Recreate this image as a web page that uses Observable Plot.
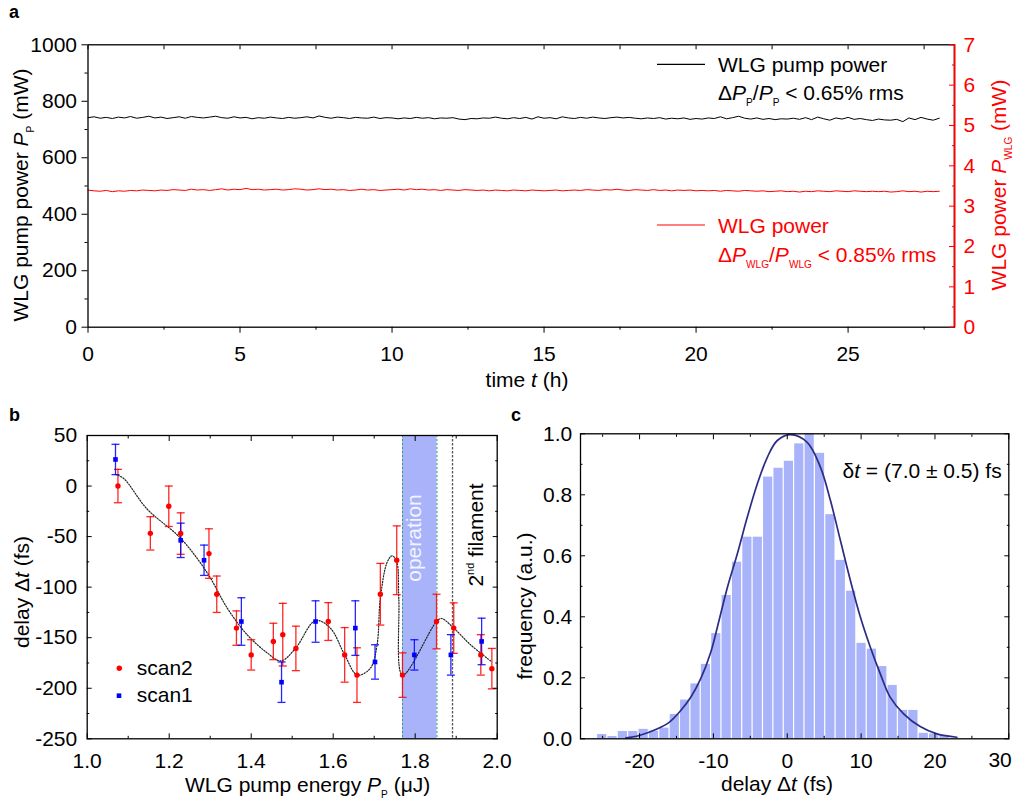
<!DOCTYPE html>
<html><head><meta charset="utf-8">
<script src="https://cdn.jsdelivr.net/npm/d3@7"></script>
<script src="https://cdn.jsdelivr.net/npm/@observablehq/plot@0.6"></script>
<style>
body{margin:0;background:#fff;}
#root{position:relative;width:1016px;height:802px;overflow:hidden;}
#root svg{position:absolute;overflow:visible;}
</style></head><body><div id="root"></div>
<script>
// ---------- Panel a data (time step 0.2 h) ----------
const tStep = 0.2;
const tMax = 28.5;
const pumpPower = [742,745,740,743,739,744,741,746,740,743,747,
741,744,739,742,745,740,746,743,741,744,
747,742,740,745,741,743,738,742,740,744,
741,739,743,740,742,745,741,748,743,740,
744,742,739,743,741,740,744,739,742,741,
738,741,739,743,740,742,738,741,740,742,
737,735,739,738,741,740,744,740,738,742,
739,743,737,745,740,742,738,745,741,739,
743,740,744,741,739,742,744,741,743,740,
738,741,739,742,737,740,738,741,736,739,
737,741,739,745,738,742,747,740,737,741,
736,739,735,738,737,740,736,742,735,744,
738,733,741,737,743,736,739,735,732,737,
734,733,736,728,741,735,743,737,733,740];
const wlgPower = [3.40,3.38,3.37,3.39,3.36,3.38,3.37,3.39,3.38,3.40,3.39,
3.38,3.40,3.39,3.41,3.40,3.39,3.42,3.40,3.41,3.39,
3.41,3.43,3.40,3.42,3.41,3.44,3.41,3.42,3.40,3.41,
3.42,3.40,3.41,3.43,3.42,3.40,3.41,3.43,3.41,3.42,
3.40,3.41,3.39,3.40,3.42,3.40,3.41,3.39,3.40,3.41,
3.42,3.40,3.43,3.41,3.42,3.40,3.41,3.39,3.41,3.40,
3.39,3.41,3.40,3.39,3.40,3.38,3.40,3.39,3.38,3.40,
3.39,3.38,3.40,3.39,3.38,3.39,3.40,3.38,3.39,3.40,
3.39,3.41,3.40,3.39,3.41,3.40,3.42,3.40,3.39,3.41,
3.40,3.39,3.41,3.39,3.40,3.38,3.40,3.39,3.40,3.38,
3.39,3.38,3.39,3.37,3.39,3.38,3.37,3.39,3.38,3.37,
3.38,3.36,3.37,3.38,3.36,3.37,3.35,3.37,3.36,3.38,
3.37,3.36,3.38,3.37,3.36,3.38,3.37,3.36,3.37,3.36,
3.37,3.35,3.36,3.38,3.36,3.37,3.35,3.37,3.36,3.37];
const tMajorA = [0,5,10,15,20,25];
const tMinorA = [2.5,7.5,12.5,17.5,22.5,27.5];
const pMajor = [0,200,400,600,800,1000];
const pMinor = [100,300,500,700,900];
const wMajor = [0,1,2,3,4,5,6,7];
const wMinor = [0.5,1.5,2.5,3.5,4.5,5.5,6.5];

// ---------- Panel b data ----------
const scan2X = [1.075,1.154,1.199,1.228,1.297,1.316,1.364,1.400,1.454,1.477,1.509,1.588,1.628,1.658,1.715,1.755,1.769,1.852,1.894,1.960,1.987];
const scan2Y = [0,-46.8,-20,-47,-66.8,-107,-140.5,-167,-153.7,-147,-160.6,-134,-167,-187,-107,-73.4,-187,-134,-140.5,-167,-180.6];
const scan2E = [16.5,16.5,20,20.5,24.5,18,17,15,18,31,22,18.7,27,27,30.5,34,22,27,25,20,20];
const scan1X = [1.069,1.228,1.285,1.376,1.474,1.557,1.654,1.702,1.798,1.887,1.962];
const scan1Y = [26.3,-53.7,-73.4,-134,-194,-134,-140.5,-174,-167,-167,-153.7];
const scan1E = [15,17,15,23.5,20,20.5,27,17,15,20,23];
const fitX = [1.069,1.089,1.146,1.228,1.293,1.342,1.390,1.439,1.472,1.508,1.557,1.593,1.628,1.659,1.691,1.707,1.715,1.732,1.744,1.755,1.760,1.769,1.852,1.864,1.894,1.935,1.984];
const fitY = [11.5,7.5,-22.7,-51.7,-86,-121,-147,-165,-173,-160.6,-133,-140.5,-167,-187,-180,-157,-111,-75,-69,-75,-111,-187,-134,-131,-140.5,-157,-173];
const operationBand = [1.769, 1.853];
const filamentE = 1.891;
const eMajor = [1.0,1.2,1.4,1.6,1.8,2.0];
const eMinor = [1.1,1.3,1.5,1.7,1.9];
const dMajor = [50,0,-50,-100,-150,-200,-250];
const dMinor = [25,-25,-75,-125,-175,-225];

// ---------- Panel c data ----------
const binStart = -25.77;
const binWidth = 1.405;
const freq = [0.014,0.0075,0.024,0.024,0.031,0.025,0.035,0.080,0.127,0.18,0.244,0.345,0.47,0.579,0.661,0.661,0.858,0.887,0.910,0.967,1.0,0.936,0.735,0.585,0.484,0.313,0.294,0.237,0.175,0.093,0.093,0.018,0.016,0.011];
const gaussX = [-21.85,-20.05,-17.57,-16.0,-14.42,-13.07,-11.72,-10.36,-9.24,-8.1,-6.76,-5.41,-4.05,-2.70,-1.35,0.45,2.70,4.5,5.85,7.2,8.55,9.9,11.25,12.6,13.95,15.76,18.0,20.27,22.97];
const gaussY = [0.003,0.011,0.033,0.054,0.093,0.136,0.197,0.284,0.388,0.497,0.607,0.727,0.836,0.923,0.978,0.997,0.972,0.89,0.781,0.65,0.519,0.399,0.30,0.213,0.136,0.082,0.040,0.016,0.005];
const cMajor = [-20,-10,0,10,20,30];
const cMinor = [-25,-15,-5,5,15,25];
const fMajor = [0,0.2,0.4,0.6,0.8,1.0];
const fMinor = [0.1,0.3,0.5,0.7,0.9];

// ---------- build ----------
const FONT = "'Liberation Sans', Arial, Helvetica, sans-serif";
const blank = () => "";
const root = document.getElementById("root");
const baseStyle = {fontFamily: FONT, fontSize: "21px", background: "transparent", overflow: "visible", color: "black"};

const pumpRows = pumpPower.map((p, i) => ({t: i * tStep, p}));
const wlgRows = wlgPower.map((p, i) => ({t: i * tStep, p}));
const toLeft = v => v * 1000 / 7;

const svgA = Plot.plot({
  width: 1016, height: 400,
  marginLeft: 87.5, marginRight: 62, marginTop: 44.3, marginBottom: 73.3,
  x: {domain: [0, tMax]}, y: {domain: [0, 1000]},
  style: baseStyle,
  marks: [
    Plot.line(pumpRows, {x: "t", y: "p", stroke: "black", strokeWidth: 1}),
    Plot.line(wlgRows, {x: "t", y: d => toLeft(d.p), stroke: "red", strokeWidth: 1}),
    Plot.frame({stroke: "black", strokeWidth: 1.3}),
    Plot.ruleX([tMax], {stroke: "red", strokeWidth: 1.8}),
    Plot.axisX(tMajorA, {anchor: "bottom", tickSize: 6, tickPadding: 13, tickFormat: d => String(d), label: null}),
    Plot.axisX(tMinorA, {anchor: "bottom", tickSize: 3, tickFormat: blank, label: null}),
    Plot.axisX(tMajorA.concat(tMinorA), {anchor: "top", tickSize: -4, tickFormat: blank, label: null}),
    Plot.axisY(pMajor, {anchor: "left", tickSize: 6, tickPadding: 5, tickFormat: d => String(d), label: null}),
    Plot.axisY(pMinor, {anchor: "left", tickSize: 3, tickFormat: blank, label: null}),
    Plot.axisY(wMajor.map(toLeft), {anchor: "right", tickSize: -6, tickPadding: 15, tickFormat: d => String(Math.round(d * 7 / 1000)), color: "red", label: null}),
    Plot.axisY(wMinor.map(toLeft), {anchor: "right", tickSize: -3, tickFormat: blank, color: "red", label: null})
  ]
});
svgA.style.left = "0px"; svgA.style.top = "0px";
root.appendChild(svgA);

// Panel b
const scan2 = scan2X.map((x, i) => ({x, y: scan2Y[i], e: scan2E[i]}));
const scan1 = scan1X.map((x, i) => ({x, y: scan1Y[i], e: scan1E[i]}));
const fit = fitX.map((x, i) => ({x, y: fitY[i]}));
const capSymbol = {draw(ctx, size) { const w = Math.sqrt(size / Math.PI); ctx.moveTo(-w, 0); ctx.lineTo(w, 0); }};
const yDomB = [-250, 50];
function errMarks(data, color) {
  return [
    Plot.ruleX(data, {x: "x", y1: d => d.y - d.e, y2: d => d.y + d.e, stroke: color, strokeWidth: 1.3, strokeOpacity: 0.85}),
    Plot.dot(data, {x: "x", y: d => d.y + d.e, symbol: capSymbol, r: 4, stroke: color, strokeWidth: 1.3, strokeOpacity: 0.85}),
    Plot.dot(data, {x: "x", y: d => d.y - d.e, symbol: capSymbol, r: 4, stroke: color, strokeWidth: 1.3, strokeOpacity: 0.85})
  ];
}
const svgB = Plot.plot({
  width: 508, height: 402,
  marginLeft: 86.7, marginRight: 11.3, marginTop: 35, marginBottom: 63.7,
  x: {domain: [1.0, 2.0]}, y: {domain: yDomB},
  style: baseStyle,
  marks: [
    Plot.rect([operationBand], {x1: d => d[0], x2: d => d[1], y1: yDomB[0], y2: yDomB[1], fill: "#a8b3fa"}),
    Plot.ruleX(operationBand, {stroke: "#2f9e6e", strokeWidth: 1, strokeDasharray: "2,2"}),
    Plot.ruleX([filamentE], {stroke: "#555", strokeWidth: 1.3, strokeDasharray: "2.5,1.5"}),
    Plot.line(fit, {x: "x", y: "y", curve: "catmull-rom", stroke: "#222", strokeWidth: 1.2, strokeDasharray: "1.2,1.6"}),
    ...errMarks(scan2, "#ff0000"),
    ...errMarks(scan1, "#0000ff"),
    Plot.dot(scan2, {x: "x", y: "y", r: 2.7, fill: "#ff0000"}),
    Plot.dot(scan1, {x: "x", y: "y", r: 2.6, symbol: "square", fill: "#0000ff"}),
    Plot.frame({stroke: "black", strokeWidth: 1.3}),
    Plot.axisX(eMajor, {anchor: "bottom", tickSize: -5, tickPadding: 19.3, tickFormat: d => d.toFixed(1), label: null}),
    Plot.axisX(eMinor, {anchor: "bottom", tickSize: -2.5, tickFormat: blank, label: null}),
    Plot.axisX(eMajor, {anchor: "top", tickSize: -5, tickFormat: blank, label: null}),
    Plot.axisX(eMinor, {anchor: "top", tickSize: -2.5, tickFormat: blank, label: null}),
    Plot.axisY(dMajor, {anchor: "left", tickSize: -5, tickPadding: 15, tickFormat: d => String(d), label: null}),
    Plot.axisY(dMinor, {anchor: "left", tickSize: -2.5, tickFormat: blank, label: null}),
    Plot.axisY(dMajor, {anchor: "right", tickSize: -5, tickFormat: blank, label: null}),
    Plot.axisY(dMinor, {anchor: "right", tickSize: -2.5, tickFormat: blank, label: null})
  ]
});
svgB.style.left = "0px"; svgB.style.top = "400px";
root.appendChild(svgB);

// Panel c
const bins = freq.map((h, i) => ({x1: binStart + i * binWidth, x2: binStart + (i + 1) * binWidth, h}));
const gauss = gaussX.map((x, i) => ({x, y: gaussY[i]}));
const lastC = cMajor[cMajor.length - 1];
const svgC = Plot.plot({
  width: 508, height: 402,
  marginLeft: 72, marginRight: 7.7, marginTop: 33.3, marginBottom: 63.7,
  x: {domain: [-28, 30]}, y: {domain: [0, 1]},
  style: baseStyle,
  marks: [
    Plot.rectY(bins, {x1: "x1", x2: "x2", y: "h", fill: "#a8b3fa", insetLeft: 0.6, insetRight: 0.6}),
    Plot.line(gauss, {x: "x", y: "y", curve: "catmull-rom", stroke: "#2b2d84", strokeWidth: 1.7}),
    Plot.frame({stroke: "black", strokeWidth: 1.3}),
    Plot.axisX(cMajor, {anchor: "bottom", tickSize: -5, tickPadding: 19.3, tickFormat: d => d === lastC ? "" : String(d), label: null}),
    Plot.text([lastC], {x: d => d, y: 0, text: d => String(d), textAnchor: "end", dx: 3, dy: 21.7, fontSize: 21}),
    Plot.axisX(cMinor, {anchor: "bottom", tickSize: -2.5, tickFormat: blank, label: null}),
    Plot.axisX(cMajor, {anchor: "top", tickSize: -5, tickFormat: blank, label: null}),
    Plot.axisX(cMinor, {anchor: "top", tickSize: -2.5, tickFormat: blank, label: null}),
    Plot.axisY(fMajor, {anchor: "left", tickSize: -5, tickPadding: 13.3, tickFormat: d => d.toFixed(1), label: null}),
    Plot.axisY(fMinor, {anchor: "left", tickSize: -2.5, tickFormat: blank, label: null}),
    Plot.axisY(fMajor, {anchor: "right", tickSize: -5, tickFormat: blank, label: null}),
    Plot.axisY(fMinor, {anchor: "right", tickSize: -2.5, tickFormat: blank, label: null})
  ]
});
svgC.style.left = "508px"; svgC.style.top = "400px";
root.appendChild(svgC);

// ---------- annotation overlay ----------
const ov = d3.select(root).append("svg").attr("width", 1016).attr("height", 802)
  .style("left", "0px").style("top", "0px").style("pointer-events", "none");
function rich(x, y, parts, {anchor = "start", rotate = 0, fill = "black", size = 21, weight = "normal"} = {}) {
  const t = ov.append("text")
    .attr("transform", `translate(${x},${y})` + (rotate ? ` rotate(${rotate})` : ""))
    .attr("text-anchor", anchor).attr("fill", fill).attr("font-size", size)
    .attr("font-weight", weight).attr("font-family", FONT).style("white-space", "pre");
  let shift = 0;
  for (const [s, st] of parts) {
    const ts = t.append("tspan").text(s);
    let target = 0;
    if (st === "sub") { target = size * 0.3; ts.attr("font-size", size * 0.48); }
    else if (st === "sup") { target = -size * 0.42; ts.attr("font-size", size * 0.52); }
    else if (st === "i") ts.attr("font-style", "italic");
    if (target !== shift) { ts.attr("dy", target - shift); shift = target; }
  }
  return t;
}
// panel letters
rich(9, 18, [["a"]], {weight: "bold", size: 18});
rich(9, 421, [["b"]], {weight: "bold", size: 18});
rich(511, 421, [["c"]], {weight: "bold", size: 18});

// panel a titles
rich(28, 195, [["WLG pump power "], ["P", "i"], ["P", "sub"], [" (mW)"]], {anchor: "middle", rotate: -90});
rich(1006, 185, [["WLG power "], ["P", "i"], ["WLG", "sub"], [" (mW)"]], {anchor: "middle", rotate: -90, fill: "red"});
rich(527, 387, [["time "], ["t", "i"], [" (h)"]], {anchor: "middle"});
// panel a legend
ov.append("line").attr("x1", 657).attr("x2", 705).attr("y1", 64.3).attr("y2", 64.3).attr("stroke", "black").attr("stroke-width", 1.2);
rich(718, 72, [["WLG pump power"]]);
rich(718, 100, [["Δ"], ["P", "i"], ["P", "sub"], ["/"], ["P", "i"], ["P", "sub"], [" < 0.65% rms"]]);
ov.append("line").attr("x1", 657).attr("x2", 705).attr("y1", 225).attr("y2", 225).attr("stroke", "red").attr("stroke-width", 1.2);
rich(718, 232.7, [["WLG power"]], {fill: "red"});
rich(718, 261.7, [["Δ"], ["P", "i"], ["WLG", "sub"], ["/"], ["P", "i"], ["WLG", "sub"], [" < 0.85% rms"]], {fill: "red"});

// panel b titles & annotations
rich(307.6, 792, [["WLG pump energy "], ["P", "i"], ["P", "sub"], [" (μJ)"]], {anchor: "middle"});
rich(29, 592, [["delay Δ"], ["t", "i"], [" (fs)"]], {anchor: "middle", rotate: -90});
rich(421.3, 538, [["operation"]], {anchor: "middle", rotate: -90, fill: "#f2f4ff"});
rich(483, 535, [["2"], ["nd", "sup"], [" filament"]], {anchor: "middle", rotate: -90});
ov.append("circle").attr("cx", 119.3).attr("cy", 668.3).attr("r", 2.7).attr("fill", "#ff0000");
rich(136.7, 675, [["scan2"]]);
ov.append("rect").attr("x", 116.7).attr("y", 693.4).attr("width", 4.6).attr("height", 4.6).attr("fill", "#0000ff");
rich(136.7, 702, [["scan1"]]);

// panel c titles & annotations
rich(777, 790.6, [["delay Δ"], ["t", "i"], [" (fs)"]], {anchor: "middle"});
rich(532.3, 606, [["frequency (a.u.)"]], {anchor: "middle", rotate: -90});
rich(1001.7, 478, [["δ"], ["t", "i"], [" = (7.0 ± 0.5) fs"]], {anchor: "end"});
</script></body></html>
